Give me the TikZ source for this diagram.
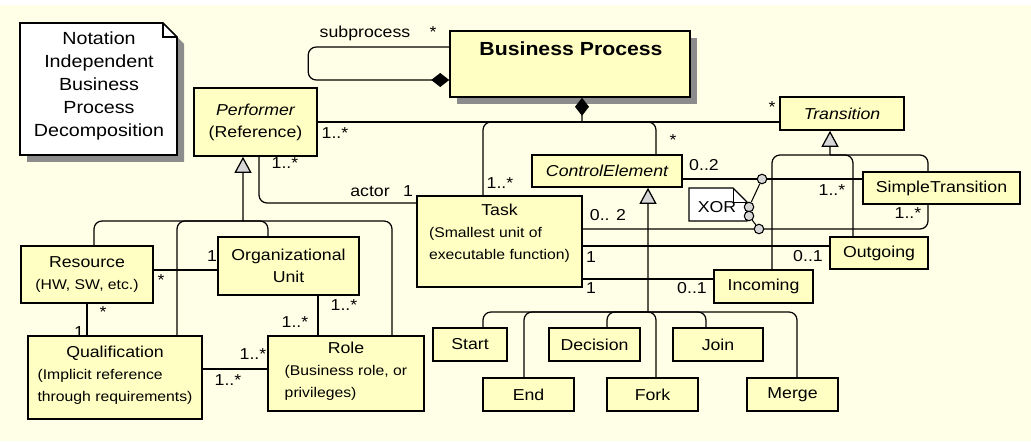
\documentclass[tikz,border=0pt]{standalone}
\usepackage{fontspec}
\setmainfont{Liberation Sans}[FakeStretch=1.12]
\usetikzlibrary{arrows.meta,positioning,shadows}
\definecolor{bgyellow}{RGB}{255,255,232}
\definecolor{boxyellow}{RGB}{255,255,196}
\definecolor{shadowgray}{RGB}{140,140,140}
\definecolor{tipgray}{RGB}{215,215,215}
\newcommand{\descfont}{\fontsize{8}{12.5}\selectfont}
\newcommand{\leftlines}[1]{{\descfont\begin{tabular}[t]{@{}l@{}}#1\end{tabular}}}

\begin{document}
\begin{tikzpicture}[
    x=0.2mm, y=-0.2mm,
    font=\fontsize{9}{12.5}\selectfont,
    class_style/.style={rectangle, draw, line width=0.9pt, fill=boxyellow, inner sep=0pt, align=center},
    mult_style/.style={inner sep=0pt},
    link_style/.style={line width=0.7pt, rounded corners=1.6mm},
    gen_style/.style={link_style, -{Triangle[fill=tipgray, length=3.2mm, width=3.4mm]}},
    comp_style/.style={link_style, {Diamond[fill=black, length=3.6mm, width=2.8mm]}-},
    dot_style/.style={circle, draw, line width=0.6pt, fill=tipgray, minimum size=1.9mm, inner sep=0pt}
]

\useasboundingbox (0,0) rectangle (1031,441);
\fill[bgyellow] (0,5) rectangle (1031,441);

% Title note
\fill[shadowgray] (27,30) -- (170,30) -- (184,44) -- (184,162) -- (27,162) -- cycle;
\draw[fill=white, line width=0.9pt] (20,23) -- (163,23) -- (177,37) -- (177,155) -- (20,155) -- cycle;
\draw[line width=0.6pt] (163,23) -- (163,37) -- (177,37);
\node[align=center, font=\fontsize{10}{13.1}\selectfont] (note) at (99,86)
    {Notation\\Independent\\Business\\Process\\Decomposition};

% Classes
\node[class_style, minimum width=48mm, minimum height=13.2mm,
      drop shadow={shadow xshift=1.4mm, shadow yshift=-1.4mm, fill=shadowgray, opacity=1}] (bp) at (570,64) {};
\node[font=\fontsize{10.8}{13}\selectfont\bfseries] (bp_name) at (571,49) {Business Process};
\node[class_style, minimum width=24.6mm, minimum height=13.6mm] (performer) at (255.5,122) {\itshape Performer\\(Reference)};
\node[class_style, minimum width=24.8mm, minimum height=6.6mm] (transition) at (842,113.5) {\itshape Transition};
\node[class_style, minimum width=30mm, minimum height=6.4mm] (control) at (607,171) {\itshape ControlElement};
\node[class_style, minimum width=33mm, minimum height=18.2mm] (task) at (499.5,241.5) {};
\node[align=center] (task_text) at (499.5,235) {Task\\\leftlines{(Smallest unit of\\executable function)}};
\node[class_style, minimum width=31.4mm, minimum height=6.4mm] (simple) at (941.5,188) {SimpleTransition};
\node[class_style, minimum width=19.6mm, minimum height=6.4mm] (outgoing) at (879,253) {Outgoing};
\node[class_style, minimum width=19.8mm, minimum height=6.6mm] (incoming) at (763.5,286.5) {Incoming};
\node[class_style, minimum width=26.4mm, minimum height=11.4mm] (resource) at (87,274.5) {Resource\\{\descfont(HW, SW, etc.)}};
\node[class_style, minimum width=28.2mm, minimum height=11.6mm] (orgunit) at (288.5,266) {Organizational\\Unit};
\node[class_style, minimum width=34.8mm, minimum height=16.6mm] (qualification) at (115,377.5)
    {Qualification\\\leftlines{(Implicit reference\\through requirements)}};
\node[class_style, minimum width=31.2mm, minimum height=15mm] (role) at (346,373.5)
    {Role\\\leftlines{(Business role, or\\privileges)}};
\foreach \name/\x/\y/\w/\txt in {start/470/344.5/14.8mm/Start, end/528.5/394.5/18.2mm/End,
        decision/594.5/344.5/18.2mm/Decision, fork/652.5/394.5/18.2mm/Fork,
        join/718/344.5/18mm/Join, merge/792.5/394.5/18.2mm/Merge}
    \node[class_style, minimum width=\w, minimum height=6.6mm] (\name) at (\x,\y) {\txt};

% Composition from Business Process
\draw[comp_style] ([yshift=-3.2mm]bp.west) -- ++(-141,0) |- ([yshift=3.4mm]bp.west);
\coordinate (bp_split) at (582,122);
\draw[comp_style] ([xshift=2.4mm]bp.south) -- (bp_split);
\draw[link_style] (performer.east) -- (performer.east -| transition.west);
\draw[link_style] (bp_split) -| ([xshift=-3.3mm]task.north);
\draw[link_style] (bp_split) -| ([xshift=9.8mm]control.north);

% Generalizations
\coordinate (perf_split) at (243,221);
\draw[gen_style] (perf_split) -- ([xshift=-2.5mm]performer.south);
\foreach \n/\dx in {resource/1.4mm, qualification/12.4mm, orgunit/-4.1mm, role/9.2mm}
    \draw[link_style] (perf_split) -| ([xshift=\dx]\n.north);
\coordinate (ce_split) at (648,312);
\draw[gen_style] (ce_split) -- ([xshift=8.2mm]control.south);
\foreach \n/\dx in {start/2.6mm, end/-0.9mm, decision/2.5mm, fork/0.7mm, join/-2.4mm, merge/0.9mm}
    \draw[link_style] (ce_split) -| ([xshift=\dx]\n.north);
\coordinate (tr_split) at (830,155);
\draw[gen_style] (tr_split) -- ([xshift=-2.4mm]transition.south);
\foreach \n/\dx in {incoming/1.7mm, outgoing/-5.2mm, simple/-2.7mm}
    \draw[link_style] (tr_split) -| ([xshift=\dx]\n.north);

% Associations
\draw[link_style] ([xshift=0.7mm]performer.south) |- ([yshift=7.7mm]task.west);
\coordinate (ce_out) at ([yshift=-1.6mm]control.east);
\draw[link_style] (ce_out) -- (ce_out -| simple.west);
\draw[link_style] ([yshift=2.5mm]task.east) -| ([xshift=-2.7mm]simple.south);
\coordinate (task_og) at ([yshift=-0.9mm]task.east);
\draw[link_style] (task_og) -- (task_og -| outgoing.west);
\coordinate (task_in) at ([yshift=-7.5mm]task.east);
\draw[link_style] (task_in) -- (task_in -| incoming.west);
\coordinate (res_out) at ([yshift=0.9mm]resource.east);
\draw[link_style] (res_out) -- (res_out -| orgunit.west);
\draw[link_style] (resource.south) -- (resource.south |- qualification.north);
\coordinate (org_out) at ([xshift=5.9mm]orgunit.south);
\draw[link_style] (org_out) -- (org_out |- role.north);
\coordinate (qual_out) at ([yshift=1.7mm]qualification.east);
\draw[link_style] (qual_out) -- (qual_out -| role.west);

% XOR constraint
\draw[fill=white, line width=0.7pt] (689,188) -- (733,188) -- (747,202) -- (747,221) -- (689,221) -- cycle;
\draw[line width=0.5pt] (733,188) -- (733,202) -- (747,202);
\node (xor) at (717,207) {XOR};
\node[dot_style] (xor_a) at (762,179) {};
\node[dot_style] (xor_b) at (759,229) {};
\node[dot_style] (xor_c) at (749,207) {};
\node[dot_style] (xor_d) at (749,216) {};
\draw[line width=0.6pt] (xor_c) -- (xor_a);
\draw[line width=0.6pt] (xor_d) -- (xor_b);

% Multiplicities and role names
\foreach \i/\x/\y/\t in {1/365/33/subprocess, 2/433/32/*, 3/335/133/1..*, 4/500/183/1..*,
        5/673/140/*, 6/772/107/*, 7/285/163/1..*, 8/370/191/actor, 9/408/191/1,
        10/704/165/0..2, 11/832/190/1..*, 12/608/215/0.. 2, 13/908/213/1..*,
        14/591/257/1, 15/808/256/0..1, 16/591/288/1, 17/692/288/0..1,
        18/212/256/1, 19/161/280/*, 20/103/312/*, 21/79/332/1,
        22/344/305/1..*, 23/295/322/1..*, 24/253/354/1..*, 25/228/380/1..*}
    \node[mult_style] (mult\i) at (\x,\y) {\t};

\end{tikzpicture}
\end{document}
